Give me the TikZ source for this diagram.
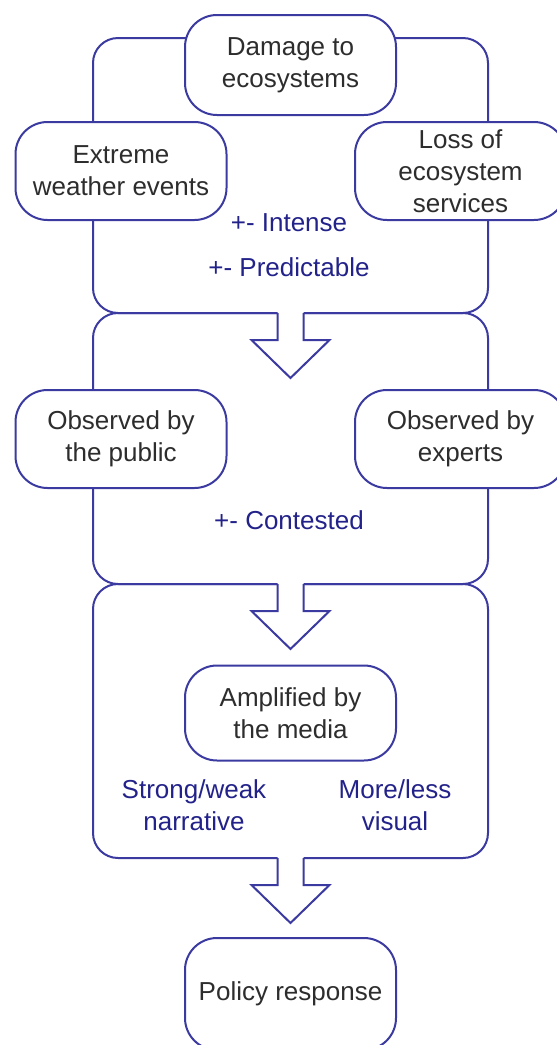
\documentclass[tikz,border=0pt]{standalone}
\usepackage{fontspec}
\setmainfont{Liberation Sans}
\usetikzlibrary{calc}
\definecolor{framecol}{RGB}{58,58,160}
\definecolor{bluetext}{RGB}{34,34,138}
\definecolor{blacktext}{RGB}{45,45,45}
\tikzset{
  frame/.style={draw=framecol, line width=2pt, rounded corners=25pt, minimum width=395pt, inner sep=0pt, outer sep=0pt},
  stadium/.style={draw=framecol, fill=white, line width=2pt, rounded corners=32pt, minimum width=211pt, minimum height=98pt, inner sep=0pt, outer sep=0pt, align=center, text=blacktext, font=\fontsize{26}{32}\selectfont},
  note/.style={text=bluetext, align=center, inner sep=0pt, font=\fontsize{26}{32}\selectfont},
  blockarrow/.pic={
    \fill[white] (-13,-2) -- (-13,27) -- (-39,27) -- (0,65) -- (39,27) -- (13,27) -- (13,-2) -- cycle;
    \draw[draw=framecol, line width=2pt] (-13,0) -- (-13,27) -- (-39,27) -- (0,65) -- (39,27) -- (13,27) -- (13,0);
  }
}
\begin{document}
\begin{tikzpicture}[x=1pt,y=-1pt]
\useasboundingbox (0,0) rectangle (557,1045);
% frames
\node[frame, minimum height=275pt] (f1) at (290.5,175.5) {};
\node[frame, minimum height=271pt] (f2) at (290.5,448.5) {};
\node[frame, minimum height=274pt] (f3) at (290.5,721) {};
% boxes
\node[stadium, minimum height=100pt] (dmg) at (290.5,65) {Damage to\\ecosystems};
\node[stadium] (ext) at (121,171) {Extreme\\weather events};
\node[stadium] (loss) at (460.5,171) {Loss of\\ecosystem\\services};
\node[stadium] (pub) at (121,439) {Observed by\\the public};
\node[stadium] (exp) at (460.5,439) {Observed by\\experts};
\node[stadium, minimum height=95pt] (amp) at (290.5,713) {Amplified by\\the media};
\node[stadium, minimum height=112pt] (pol) at (290.5,994) {Policy response};
% labels
\node[note] (intense) at (289,223) {+- Intense};
\node[note] (pred) at (289,267) {+- Predictable};
\node[note] (cont) at (289,520) {+- Contested};
\node[note] (narr) at (194,805) {Strong/weak\\narrative};
\node[note] (vis) at (395,805) {More/less\\visual};
% block arrows
\pic at (f1.south) {blockarrow};
\pic at (f2.south) {blockarrow};
\pic at (f3.south) {blockarrow};
\end{tikzpicture}
\end{document}
